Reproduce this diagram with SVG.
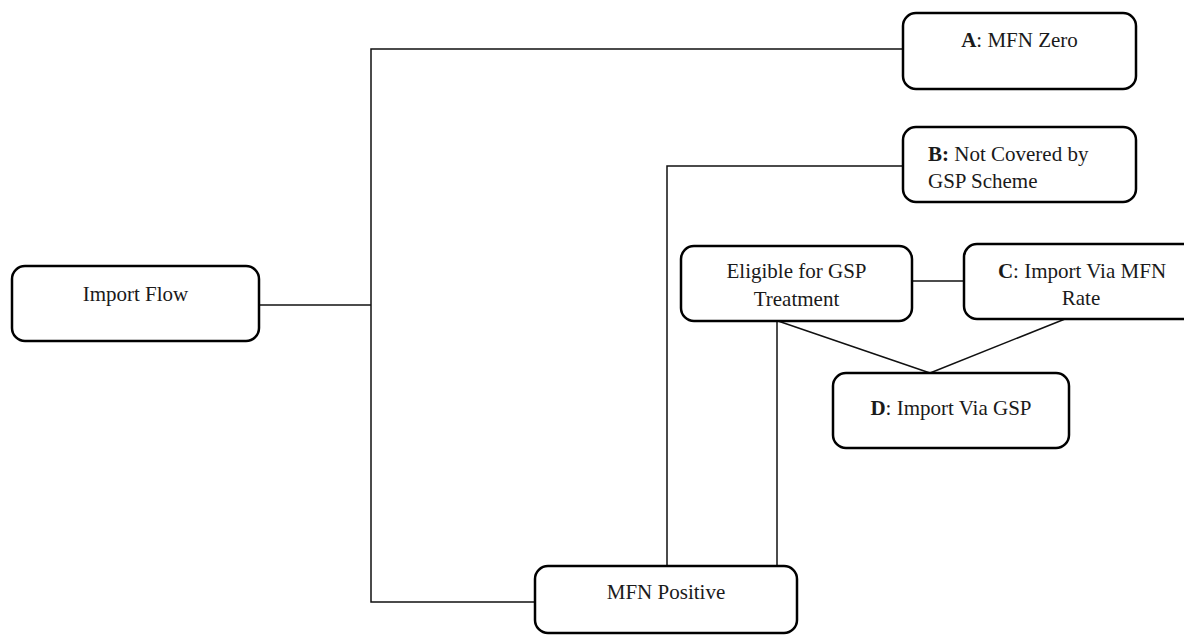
<svg xmlns="http://www.w3.org/2000/svg" width="1184" height="635" viewBox="0 0 1184 635">
  <style>
    .box { fill: #ffffff; stroke: #000000; stroke-width: 2.5; }
    .link { fill: none; stroke: #111111; stroke-width: 1.5; }
    text { font-family: "Liberation Serif", "Times New Roman", serif; font-size: 21px; fill: #1a1a1a; }
    .c { text-anchor: middle; }
    .b { font-weight: bold; }
  </style>
  <rect width="1184" height="635" fill="#ffffff"/>

  <!-- connectors -->
  <g id="connectors">
    <line class="link" x1="259" y1="305" x2="371" y2="305"/>
    <polyline class="link" points="903,49 371,49 371,602 535,602"/>
    <polyline class="link" points="903,166 667,166 667,566"/>
    <line class="link" x1="777" y1="321" x2="777" y2="566"/>
    <line class="link" x1="912" y1="281" x2="964" y2="281"/>
    <line class="link" x1="778" y1="321" x2="930" y2="373"/>
    <line class="link" x1="1065" y1="319" x2="930" y2="373"/>
  </g>

  <g id="import-flow">
    <rect class="box" x="12" y="266" width="247" height="75" rx="13"/>
    <text class="c" x="135.5" y="301">Import Flow</text>
  </g>

  <g id="node-a">
    <rect class="box" x="903" y="13" width="233" height="76" rx="13"/>
    <text class="c" x="1019.5" y="47"><tspan class="b">A</tspan>: MFN Zero</text>
  </g>

  <g id="node-b">
    <rect class="box" x="903" y="127" width="233" height="75" rx="13"/>
    <text x="928" y="161"><tspan class="b">B:</tspan> Not Covered by</text>
    <text x="928" y="188">GSP Scheme</text>
  </g>

  <g id="eligible">
    <rect class="box" x="681" y="246" width="231" height="75" rx="13"/>
    <text class="c" x="796.5" y="278">Eligible for GSP</text>
    <text class="c" x="796.5" y="306">Treatment</text>
  </g>

  <g id="node-c">
    <rect class="box" x="964" y="244" width="234" height="75" rx="13"/>
    <text class="c" x="1082" y="278"><tspan class="b">C</tspan>: Import Via MFN</text>
    <text class="c" x="1081" y="305">Rate</text>
  </g>

  <g id="node-d">
    <rect class="box" x="833" y="373" width="236" height="75" rx="13"/>
    <text class="c" x="951" y="415"><tspan class="b">D</tspan>: Import Via GSP</text>
  </g>

  <g id="mfn-positive">
    <rect class="box" x="535" y="566" width="262" height="67" rx="13"/>
    <text class="c" x="666" y="599">MFN Positive</text>
  </g>
</svg>
